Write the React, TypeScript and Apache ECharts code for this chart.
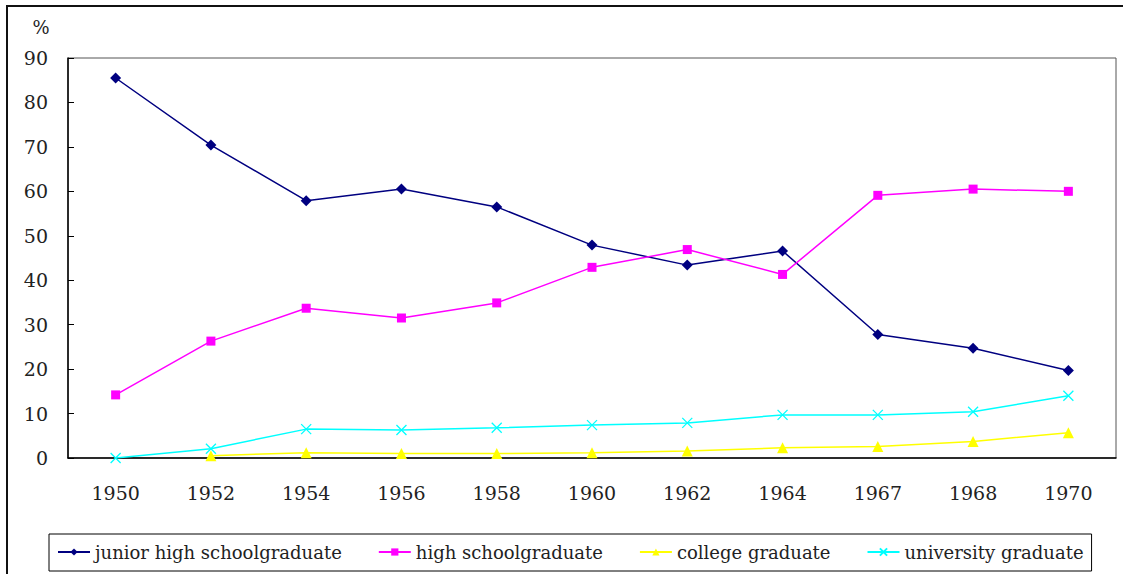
import React, { useEffect, useRef } from "react";
import * as echarts from "echarts";

const years = ["1950", "1952", "1954", "1956", "1958", "1960", "1962", "1964", "1967", "1968", "1970"];
const juniorHigh = [85.5, 70.4, 57.9, 60.5, 56.5, 47.9, 43.4, 46.6, 27.8, 24.7, 19.7];
const highSchool = [14.2, 26.3, 33.7, 31.5, 34.9, 42.9, 46.9, 41.3, 59.1, 60.5, 60.0];
const college = [null, 0.5, 1.2, 1.0, 1.0, 1.2, 1.6, 2.3, 2.6, 3.7, 5.7];
const university = [0, 2.1, 6.5, 6.3, 6.8, 7.4, 7.9, 9.7, 9.7, 10.4, 14.0];
const seriesNames = ["junior high schoolgraduate", "high schoolgraduate", "college graduate", "university graduate"];
const yTicks = { min: 0, max: 90, interval: 10 };

const FONT = "'DejaVu Serif', 'Liberation Serif', serif";
const CROSS = "path://M0,0L10,10M10,0L0,10";

export default function App() {
  const ref = useRef<HTMLDivElement>(null);
  useEffect(() => {
    if (!ref.current) return;
    const chart = echarts.init(ref.current, null, { renderer: "svg" });
    const mk = (name: string, data: any[], color: string, symbol: string, size: number, extra: any = {}) => ({
      name,
      type: "line",
      data,
      symbol,
      symbolSize: size,
      lineStyle: { color, width: 1.5 },
      itemStyle: { color, ...extra },
      emphasis: { disabled: true },
    });
    chart.setOption({
      animation: false,
      backgroundColor: "#fff",
      grid: { left: 68, top: 58, right: 7, bottom: 116, show: true, borderColor: "#555", borderWidth: 1, backgroundColor: "transparent" },
      xAxis: {
        type: "category",
        data: years,
        boundaryGap: true,
        axisLine: { lineStyle: { color: "#000", width: 1.5 } },
        axisTick: { inside: true, length: 6, lineStyle: { color: "#000" } },
        axisLabel: { fontFamily: FONT, fontSize: 19, color: "#222", margin: 25 },
        splitLine: { show: false },
      },
      yAxis: {
        type: "value",
        min: yTicks.min,
        max: yTicks.max,
        interval: yTicks.interval,
        axisLine: { show: true, lineStyle: { color: "#000", width: 1.5 } },
        axisTick: { show: true, inside: true, length: 6, lineStyle: { color: "#000" } },
        axisLabel: { fontFamily: FONT, fontSize: 19, color: "#222", margin: 20, padding: [7, 0, 0, 0] },
        splitLine: { show: false },
      },
      legend: {
        left: 49,
        top: 534,
        orient: "horizontal",
        padding: [8, 8, 9, 8],
        itemGap: 36,
        itemWidth: 32,
        itemHeight: 9,
        borderColor: "#000",
        borderWidth: 1,
        textStyle: { fontFamily: FONT, fontSize: 18, color: "#222", lineHeight: 20 },
        data: seriesNames,
      },
      graphic: [
        { type: "rect", shape: { x: 7, y: 6, width: 1300, height: 800 }, style: { fill: "none", stroke: "#111", lineWidth: 2 }, silent: true },
        { type: "text", x: 41, y: 27, style: { text: "%", fontFamily: FONT, fontSize: 18, fill: "#222", align: "center", verticalAlign: "middle" } },
      ],
      series: [
        mk(seriesNames[0], juniorHigh, "#000080", "diamond", 11),
        mk(seriesNames[1], highSchool, "#FF00FF", "rect", 9),
        mk(seriesNames[2], college, "#FFFF00", "triangle", 11),
        mk(seriesNames[3], university, "#00FFFF", CROSS, 10, { borderColor: "#00FFFF", borderWidth: 1.3 }),
      ],
    });
    return () => chart.dispose();
  }, []);
  return <div ref={ref} style={{ position: "fixed", left: 0, top: 0, width: 1123, height: 574 }} />;
}
